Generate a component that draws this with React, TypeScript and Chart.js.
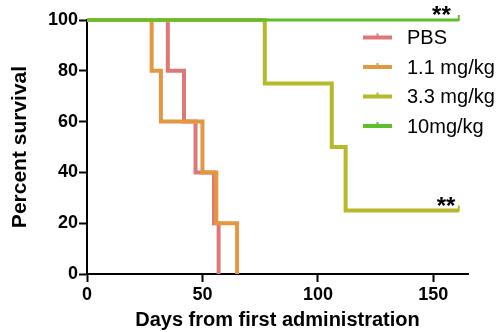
import React, { useEffect, useRef } from "react";
import { Chart, registerables } from "chart.js";

Chart.register(...registerables);

// Survival step data (day at which survival drops to the given percent)
const pbsDays = [0, 35, 42, 47, 55, 57];
const pbsSurvival = [100, 80, 60, 40, 20, 0];

const lowDays = [0, 28, 32, 50, 56, 65];
const lowSurvival = [100, 80, 60, 40, 20, 0];

const midDays = [0, 77, 106, 112, 161];
const midSurvival = [100, 75, 50, 25, 25];

const highDays = [0, 161];
const highSurvival = [100, 100];

const seriesLabels = ["PBS", "1.1 mg/kg", "3.3 mg/kg", "10mg/kg"];
const seriesColors = ["#de7878", "#e39741", "#b5b92b", "#5fbe2b"];
const censored = [false, false, true, true];

const xTicks = [0, 50, 100, 150];
const yTicks = [0, 20, 40, 60, 80, 100];

// significance marks
const starMarks = [
  { x: 153.5, y: 100, text: "**" },
  { x: 155.5, y: 25, text: "**" },
];

const FONT = "'Liberation Sans', Arial, Helvetica, sans-serif";

function toPoints(xs: number[], ys: number[]) {
  return xs.map((x, i) => ({ x, y: ys[i] }));
}

const overlayPlugin = {
  id: "overlay",
  afterDatasetsDraw(chart: any) {
    const { ctx, chartArea, scales } = chart;
    ctx.save();
    // censor ticks at the last point of censored series
    chart.data.datasets.forEach((ds: any, i: number) => {
      if (!censored[i]) return;
      const meta = chart.getDatasetMeta(i);
      const last = meta.data[meta.data.length - 1];
      ctx.strokeStyle = ds.borderColor;
      ctx.lineWidth = 2;
      ctx.beginPath();
      ctx.moveTo(last.x, last.y + 1);
      ctx.lineTo(last.x, last.y - 5);
      ctx.stroke();
    });
    // stars
    ctx.fillStyle = "#000";
    ctx.font = `bold 24px ${FONT}`;
    ctx.textAlign = "center";
    ctx.textBaseline = "alphabetic";
    starMarks.forEach((m) => {
      const px = scales.x.getPixelForValue(m.x);
      const py = scales.y.getPixelForValue(m.y);
      ctx.fillText(m.text, px, py + 3);
    });
    // legend
    const lx0 = chartArea.left + 276;
    const lx1 = chartArea.left + 305;
    const tx = chartArea.left + 320;
    const y0 = chartArea.top + 17.5;
    const dy = 29.5;
    ctx.font = `20px ${FONT}`;
    ctx.textAlign = "left";
    ctx.textBaseline = "middle";
    chart.data.datasets.forEach((ds: any, i: number) => {
      const y = y0 + i * dy;
      ctx.strokeStyle = ds.borderColor;
      ctx.lineWidth = 4;
      ctx.beginPath();
      ctx.moveTo(lx0, y);
      ctx.lineTo(lx1, y);
      ctx.stroke();
      ctx.lineWidth = 2;
      ctx.beginPath();
      const mx = (lx0 + lx1) / 2;
      ctx.moveTo(mx, y - 4);
      ctx.lineTo(mx, y + 1);
      ctx.stroke();
      ctx.fillStyle = "#000";
      ctx.fillText(ds.label, tx, y + 1);
    });
    ctx.restore();
  },
};

export default function App() {
  const ref = useRef<HTMLCanvasElement | null>(null);
  useEffect(() => {
    if (!ref.current) return;
    const series = [
      { d: pbsDays, s: pbsSurvival, order: 3, w: 4 },
      { d: lowDays, s: lowSurvival, order: 2, w: 4 },
      { d: midDays, s: midSurvival, order: 1, w: 4 },
      { d: highDays, s: highSurvival, order: 0, w: 3 },
    ];
    const datasets = series.map((sr, i) => ({
      label: seriesLabels[i],
      data: toPoints(sr.d, sr.s),
      borderColor: seriesColors[i],
      backgroundColor: seriesColors[i],
      borderWidth: sr.w,
      stepped: true,
      fill: false,
      clip: false as const,
      order: sr.order,
      pointRadius: 0,
      pointHoverRadius: 0,
    }));
    const chart = new Chart(ref.current, {
      type: "line",
      data: { datasets },
      plugins: [overlayPlugin],
      options: {
        responsive: false,
        animation: false,
        layout: { padding: { top: 20, right: 32, left: 0, bottom: 0 } },
        plugins: { legend: { display: false }, tooltip: { enabled: false } },
        scales: {
          x: {
            type: "linear",
            min: 0,
            max: 165,
            afterFit: (s: any) => {
              s.height = 58;
            },
            afterBuildTicks: (s: any) => {
              s.ticks = xTicks.map((v) => ({ value: v }));
            },
            border: { display: true, color: "#000", width: 2 },
            grid: {
              display: true,
              drawOnChartArea: false,
              drawTicks: true,
              tickLength: 8,
              tickWidth: 2,
              tickColor: "#000",
            },
            ticks: {
              color: "#000",
              padding: 2,
              maxRotation: 0,
              font: { family: FONT, size: 18, weight: "bold" },
            },
            title: {
              display: true,
              text: "Days from first administration",
              color: "#000",
              padding: { top: 0, bottom: 0 },
              font: { family: FONT, size: 20, weight: "bold" },
            },
          },
          y: {
            type: "linear",
            min: 0,
            max: 100,
            afterFit: (s: any) => {
              s.width = 87;
            },
            afterBuildTicks: (s: any) => {
              s.ticks = yTicks.map((v) => ({ value: v }));
            },
            border: { display: true, color: "#000", width: 2 },
            grid: {
              display: true,
              drawOnChartArea: false,
              drawTicks: true,
              tickLength: 8,
              tickWidth: 2,
              tickColor: "#000",
            },
            ticks: {
              color: "#000",
              padding: 1,
              font: { family: FONT, size: 18, weight: "bold" },
            },
            title: {
              display: true,
              text: "Percent survival",
              color: "#000",
              padding: { top: 8, bottom: 0 },
              font: { family: FONT, size: 21, weight: "bold" },
            },
          },
        },
      },
    });
    return () => chart.destroy();
  }, []);
  return (
    <div style={{ position: "absolute", left: 0, top: 0, width: 500, height: 332, background: "#fff" }}>
      <canvas ref={ref} width={500} height={332} style={{ width: 500, height: 332 }} />
    </div>
  );
}
